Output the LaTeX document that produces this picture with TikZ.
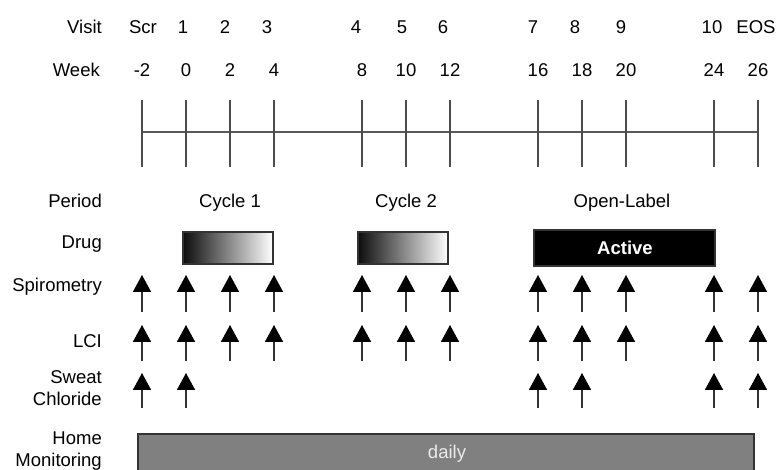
\documentclass[tikz,border=0pt]{standalone}
\usepackage{fontspec}
\setmainfont{Liberation Sans}
\usetikzlibrary{arrows.meta}
\begin{document}
\begin{tikzpicture}[x=1pt,y=-1pt,
  font=\fontsize{18.5}{22}\selectfont,
  rowlabel/.style={anchor=base east, inner sep=0pt, text=black},
  toplabel/.style={anchor=base, inner sep=0pt, text=black},
  tickline/.style={draw=black!70, line width=1.6pt},
  axisline/.style={draw=black!65, line width=1.1pt},
  marker/.style={draw=black!80, line width=1.6pt, -{Triangle[length=17pt,width=18pt,color=black,fill=black]}},
  fadebox/.style={draw=black!80, line width=1.2pt, left color=black!95, right color=white, inner sep=0pt},
  solidbox/.style={draw=black!80, line width=1.2pt, fill=black, inner sep=0pt},
  homebox/.style={draw=black!80, line width=1.2pt, fill=black!50, inner sep=0pt}]
\useasboundingbox (0,0) rectangle (780,470);
\clip (0,0) rectangle (780,470);

% row labels
\node[rowlabel] (lvisit) at (102,33.5) {Visit};
\node[rowlabel] (lweek) at (100,77) {Week};
\node[rowlabel] (lperiod) at (102,208) {Period};
\node[rowlabel] (ldrug) at (102,249) {Drug};
\node[rowlabel] (lspiro) at (102,292) {Spirometry};
\node[rowlabel] (llci) at (102,348) {LCI};
\node[rowlabel] (lsweat) at (102,384) {Sweat};
\node[rowlabel] (lchlor) at (102,406) {Chloride};
\node[rowlabel] (lhome) at (102,445) {Home};
\node[rowlabel] (lmon) at (102,467) {Monitoring};

% visit labels
\foreach \x/\t/\n in {143/Scr/v0,183/1/v1,225/2/v2,267/3/v3,356/4/v4,402/5/v5,443/6/v6,533/7/v7,575/8/v8,621/9/v9,712/10/v10,756/EOS/v11}
  \node[toplabel] (\n) at (\x,33.5) {\t};

% week labels
\foreach \w/\n in {-2/w0,0/w1,2/w2,4/w3,8/w4,10/w5,12/w6,16/w7,18/w8,20/w9,24/w10,26/w11}
  \node[toplabel] (\n) at ({186+22*\w},77) {\w};

% timeline
\coordinate (hl) at (142,132);
\coordinate (hr) at (757,132);
\draw[axisline] (hl) -- (hr);
\foreach \w/\n in {-2/0,0/1,2/2,4/3,8/4,10/5,12/6,16/7,18/8,20/9,24/10,26/11} {
  \coordinate (ta\n) at ({186+22*\w},100);
  \coordinate (tb\n) at ({186+22*\w},167);
  \draw[tickline] (ta\n) -- (tb\n);
}

% period labels
\node[toplabel] (cyc1) at (230,208) {Cycle 1};
\node[toplabel] (cyc2) at (406,208) {Cycle 2};
\node[toplabel] (open) at (622,208) {Open-Label};

% drug boxes
\node[fadebox, minimum width=90pt, minimum height=32pt] (drug1) at (228,248) {};
\node[fadebox, minimum width=90pt, minimum height=32pt] (drug2) at (403,248) {};
\node[solidbox, minimum width=181pt, minimum height=36pt] (drug3) at (624.5,248) {};
\node[anchor=base, inner sep=0pt, text=white, font=\fontsize{18.5}{22}\selectfont\bfseries] (active) at (625,255) {Active};

% assessment arrows
\foreach \w/\n in {-2/0,0/1,2/2,4/3,8/4,10/5,12/6,16/7,18/8,20/9,24/10,26/11} {
  \coordinate (sa\n) at ({186+22*\w},312);
  \coordinate (sb\n) at ({186+22*\w},275);
  \draw[marker] (sa\n) -- (sb\n);
  \coordinate (la\n) at ({186+22*\w},361);
  \coordinate (lb\n) at ({186+22*\w},325);
  \draw[marker] (la\n) -- (lb\n);
}
\foreach \w/\n in {-2/0,0/1,16/7,18/8,24/10,26/11} {
  \coordinate (ca\n) at ({186+22*\w},408);
  \coordinate (cb\n) at ({186+22*\w},373);
  \draw[marker] (ca\n) -- (cb\n);
}

% home monitoring
\draw[homebox] (138,434) rectangle (754,490);
\node[anchor=base, inner sep=0pt, text=black!8] (daily) at (447,459) {daily};
\end{tikzpicture}
\end{document}
